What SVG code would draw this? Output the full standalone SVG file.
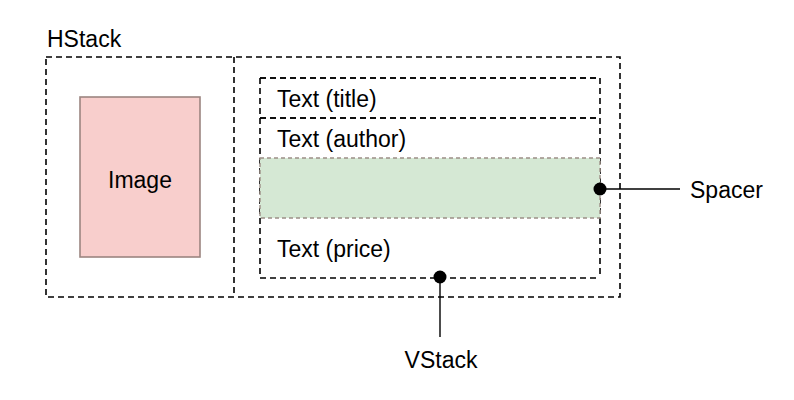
<svg xmlns="http://www.w3.org/2000/svg" width="794" height="400" viewBox="0 0 794 400">
  <style>
    .t { font-family: "Liberation Sans", Arial, Helvetica, sans-serif; font-size: 23px; fill: #000; }
    .box { fill: none; stroke: #000; stroke-width: 1.6; stroke-dasharray: 6 4; }
    .conn { stroke: #000; stroke-width: 1.4; fill: none; }
    .dot { fill: #000; }
  </style>
  <rect width="794" height="400" fill="#fff"/>
  <g id="hstack">
    <rect class="box" x="46" y="57" width="574" height="240"/>
    <line class="box" x1="234" y1="57" x2="234" y2="297"/>
    <text class="t" x="47" y="47">HStack</text>
  </g>
  <g id="image">
    <rect x="80" y="97" width="120" height="160" fill="#f8cecc" stroke="#9c8580" stroke-width="1.6"/>
    <text class="t" x="140" y="188" text-anchor="middle">Image</text>
  </g>
  <g id="vstack">
    <path class="box" d="M260,78 H600 M260,278 H600 M260,78 V278 M600,78 V278"/>
    <text class="t" x="441" y="368" text-anchor="middle">VStack</text>
  </g>
  <g id="text-title">
    <path class="box" d="M260,78 H600 M260,118 H600"/>
    <text class="t" x="277" y="107">Text (title)</text>
  </g>
  <g id="text-author">
    <path class="box" d="M260,118 H600"/>
    <text class="t" x="277" y="147">Text (author)</text>
  </g>
  <g id="spacer">
    <rect x="260" y="158" width="340" height="60" fill="#d5e8d4" stroke="#9c8f87" stroke-width="1.4" stroke-dasharray="4 3"/>
    <text class="t" x="690" y="198">Spacer</text>
  </g>
  <g id="text-price">
    <text class="t" x="277" y="257">Text (price)</text>
  </g>
  <g id="connectors">
    <line class="conn" x1="600" y1="189" x2="680" y2="189"/>
    <circle class="dot" cx="600" cy="189" r="6.5"/>
    <line class="conn" x1="440" y1="277" x2="440" y2="337"/>
    <circle class="dot" cx="440" cy="277" r="6.5"/>
  </g>
</svg>
